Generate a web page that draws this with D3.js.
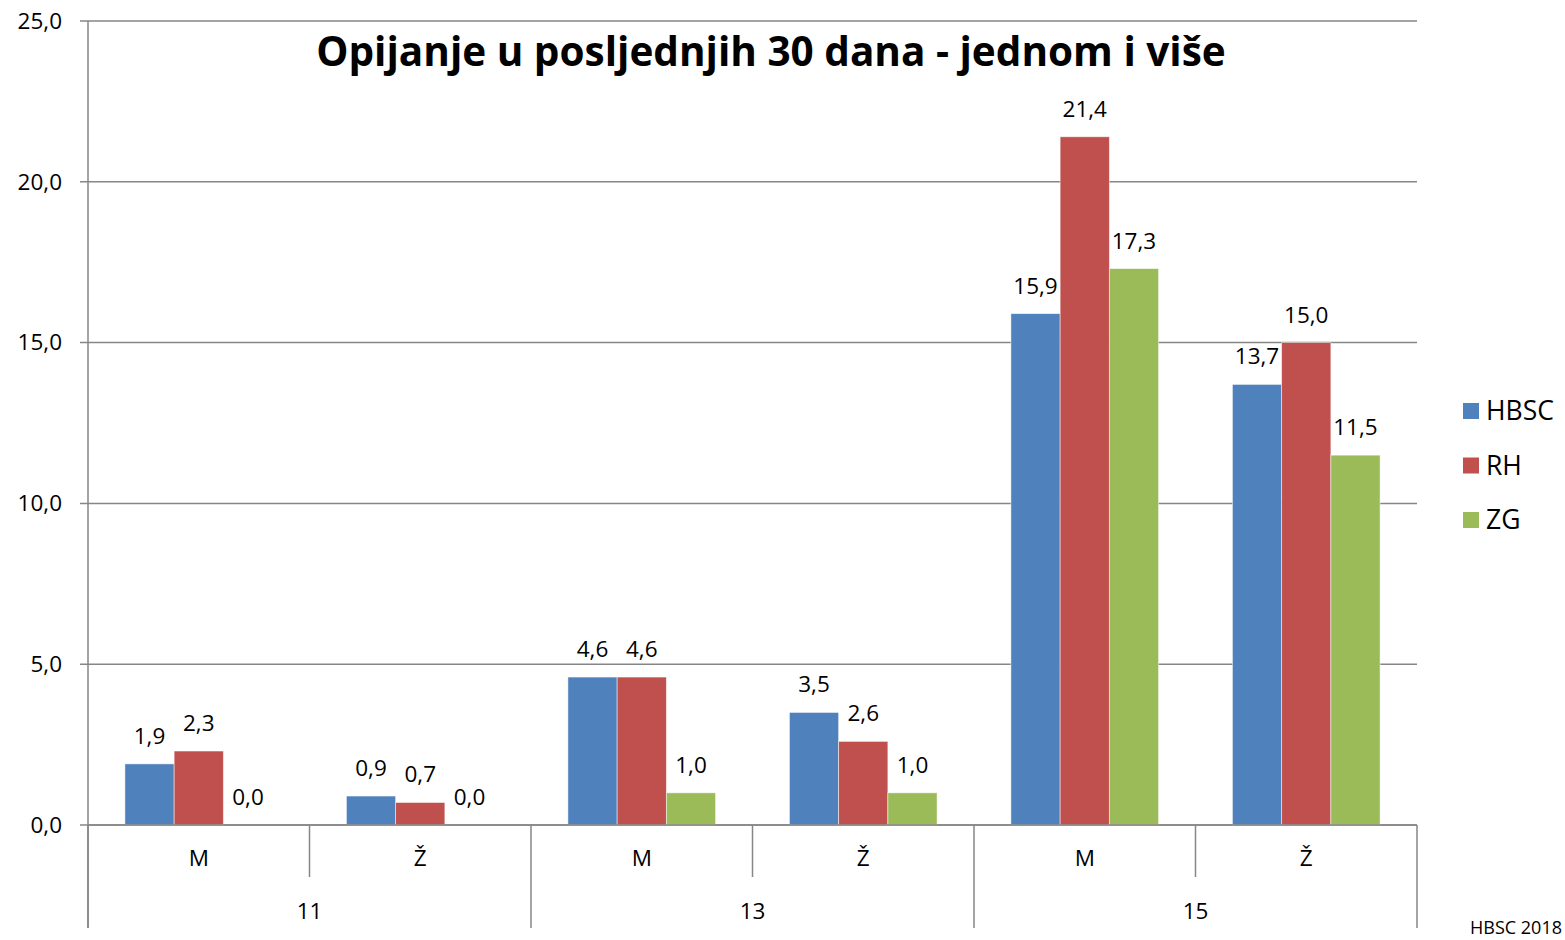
<!DOCTYPE html>
<html>
<head>
<meta charset="utf-8">
<script src="https://cdn.jsdelivr.net/npm/d3@7"></script>
<style>
  body { margin: 0; background: #fff; }
  text { font-family: "Open Sans", "Lato", sans-serif; fill: #000; }
</style>
</head>
<body>
<div id="vis"></div>
<script>
// Chart size and margins
const WIDTH = 1565;
const HEIGHT = 940;
const MARG = {left: 88, right: 148, top: 21, bottom: 115};

// data
const AGES = ["11", "13", "15"];
const SEXES = ["M", "Ž"];
const SERIES = ["HBSC", "RH", "ZG"];
const HBSC = [1.9, 0.9, 4.6, 3.5, 15.9, 13.7];
const RH = [2.3, 0.7, 4.6, 2.6, 21.4, 15.0];
const ZG = [0.0, 0.0, 1.0, 1.0, 17.3, 11.5];
const Y_TICKS = [0, 5, 10, 15, 20, 25];
const COLORS = ["#4F81BD", "#C0504D", "#9BBB59"];

const CATS = [];
AGES.forEach((a) => { SEXES.forEach((s) => { CATS.push(a + "|" + s); }); });
const VALUES = [HBSC, RH, ZG];

const fmt = (v) => v.toFixed(1).replace(".", ",");

const FRAME = d3.select("#vis")
  .append("svg")
    .attr("width", WIDTH)
    .attr("height", HEIGHT);

const X_SCALE = d3.scaleBand()
  .domain(CATS)
  .range([MARG.left, WIDTH - MARG.right])
  .padding(0);

const X_INNER = d3.scaleBand()
  .domain(SERIES)
  .range([0, X_SCALE.bandwidth()])
  .paddingInner(0)
  .paddingOuter(0.75);

const Y_SCALE = d3.scaleLinear()
  .domain([0, 25])
  .range([HEIGHT - MARG.bottom, MARG.top]);

const AGE_SCALE = d3.scaleBand()
  .domain(AGES)
  .range([MARG.left, WIDTH - MARG.right]);

const GRID = "#868686";
const Y0 = Y_SCALE(0);
const LBL = "22.5px";

// gridlines + y labels
FRAME.append("g")
  .selectAll("line")
  .data(Y_TICKS)
  .enter().append("line")
    .attr("x1", MARG.left - 8)
    .attr("x2", WIDTH - MARG.right)
    .attr("y1", (d) => Y_SCALE(d))
    .attr("y2", (d) => Y_SCALE(d))
    .attr("stroke", GRID)
    .attr("stroke-width", 1.5);

FRAME.append("g")
  .selectAll("text")
  .data(Y_TICKS)
  .enter().append("text")
    .attr("x", 62)
    .attr("y", (d) => Y_SCALE(d))
    .attr("dy", "0.35em")
    .attr("text-anchor", "end")
    .attr("font-size", LBL)
    .text((d) => fmt(d));

// y axis line
FRAME.append("line")
  .attr("x1", MARG.left).attr("x2", MARG.left)
  .attr("y1", MARG.top).attr("y2", 928)
  .attr("stroke", GRID).attr("stroke-width", 1.5);

// bars
SERIES.forEach((s, i) => {
  FRAME.append("g")
    .selectAll("rect")
    .data(CATS.map((c, j) => ({cat: c, v: VALUES[i][j]})))
    .enter().append("rect")
      .attr("x", (d) => X_SCALE(d.cat) + X_INNER(s))
      .attr("y", (d) => Y_SCALE(d.v))
      .attr("width", X_INNER.bandwidth())
      .attr("height", (d) => Y0 - Y_SCALE(d.v))
      .attr("fill", COLORS[i])
      .attr("stroke", "#ffffff")
      .attr("stroke-opacity", 0.6)
      .attr("stroke-width", 0.8);

  FRAME.append("g")
    .selectAll("text")
    .data(CATS.map((c, j) => ({cat: c, v: VALUES[i][j]})))
    .enter().append("text")
      .attr("x", (d) => X_SCALE(d.cat) + X_INNER(s) + X_INNER.bandwidth() / 2)
      .attr("y", (d) => Y_SCALE(d.v) - 20)
      .attr("text-anchor", "middle")
      .attr("font-size", LBL)
      .text((d) => fmt(d.v));
});

// x axis baseline on top of bars
FRAME.append("line")
  .attr("x1", MARG.left).attr("x2", WIDTH - MARG.right)
  .attr("y1", Y0).attr("y2", Y0)
  .attr("stroke", GRID).attr("stroke-width", 1.5);

// category separators (sex level)
FRAME.append("g")
  .selectAll("line")
  .data(CATS.filter((c, j) => j % 2 == 1))
  .enter().append("line")
    .attr("x1", (d) => X_SCALE(d)).attr("x2", (d) => X_SCALE(d))
    .attr("y1", Y0).attr("y2", Y0 + 52)
    .attr("stroke", GRID).attr("stroke-width", 1.5);

// age-level separators
const AGE_EDGES = AGES.map((a) => AGE_SCALE(a)).concat([WIDTH - MARG.right]);
FRAME.append("g")
  .selectAll("line")
  .data(AGE_EDGES)
  .enter().append("line")
    .attr("x1", (d) => d).attr("x2", (d) => d)
    .attr("y1", Y0).attr("y2", 928)
    .attr("stroke", GRID).attr("stroke-width", 1.5);

// sex labels
FRAME.append("g")
  .selectAll("text")
  .data(CATS)
  .enter().append("text")
    .attr("x", (d) => X_SCALE(d) + X_SCALE.bandwidth() / 2)
    .attr("y", 858)
    .attr("dy", "0.35em")
    .attr("text-anchor", "middle")
    .attr("font-size", LBL)
    .text((d) => d.split("|")[1]);

// age labels
FRAME.append("g")
  .selectAll("text")
  .data(AGES)
  .enter().append("text")
    .attr("x", (d) => AGE_SCALE(d) + AGE_SCALE.bandwidth() / 2)
    .attr("y", 911)
    .attr("dy", "0.35em")
    .attr("text-anchor", "middle")
    .attr("font-size", LBL)
    .text((d) => d);

// title
FRAME.append("text")
  .attr("x", 771)
  .attr("y", 52)
  .attr("dy", "0.35em")
  .attr("text-anchor", "middle")
  .attr("font-size", "40.5px")
  .attr("font-weight", "bold")
  .text("Opijanje u posljednjih 30 dana - jednom i više");

// legend
const LEG = FRAME.append("g");
SERIES.forEach((s, i) => {
  const cy = 411 + i * 54.5;
  LEG.append("rect")
    .attr("x", 1463).attr("y", cy - 8)
    .attr("width", 16).attr("height", 16)
    .attr("fill", COLORS[i]);
  LEG.append("text")
    .attr("x", 1486).attr("y", cy)
    .attr("dy", "0.35em")
    .attr("font-size", "26.5px")
    .text(s);
});

// source note
FRAME.append("text")
  .attr("x", 1562).attr("y", 928)
  .attr("dy", "0.35em")
  .attr("text-anchor", "end")
  .attr("font-size", "18px")
  .text("HBSC 2018");
</script>
</body>
</html>
